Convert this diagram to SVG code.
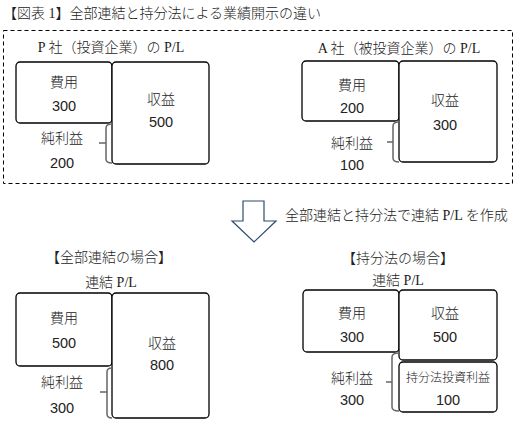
<svg xmlns="http://www.w3.org/2000/svg" width="520" height="425" viewBox="0 0 520 425">
<style>
.t{font-family:"Liberation Serif","Noto Sans CJK JP",serif;font-size:14px;font-weight:300;fill:#222}
.n{font-family:"Liberation Sans",Arial,sans-serif;font-size:14.5px;fill:#222;text-anchor:middle}
.c{text-anchor:middle}
.s{font-size:12px}
.box{fill:#fff;stroke:#000;stroke-width:1.3}
.br{fill:none;stroke:#666;stroke-width:1.5}
</style>
<rect width="520" height="425" fill="#fff"/>
<text class="t" x="3" y="18">【図表 1】全部連結と持分法による業績開示の違い</text>
<rect x="3.5" y="30.5" width="509" height="153" fill="none" stroke="#000" stroke-width="1" stroke-dasharray="4,3"/>

<g id="p-pl">
<text class="t c" x="111" y="52">P 社（投資企業）の P/L</text>
<rect class="box" x="16" y="62" width="96" height="61" rx="4"/>
<rect class="box" x="112" y="62" width="97" height="102" rx="4"/>
<text class="t c" x="64" y="87">費用</text>
<text class="n" x="64" y="111">300</text>
<text class="t c" x="161" y="104">収益</text>
<text class="n" x="161" y="127">500</text>
<text class="t c" x="62" y="143">純利益</text>
<text class="n" x="62" y="168">200</text>
</g>

<g id="a-pl">
<text class="t c" x="399" y="53">A 社（被投資企業）の P/L</text>
<rect class="box" x="302" y="61" width="97" height="60" rx="4"/>
<rect class="box" x="399" y="61" width="98" height="101" rx="4"/>
<text class="t c" x="352" y="90">費用</text>
<text class="n" x="352" y="113">200</text>
<text class="t c" x="445" y="105">収益</text>
<text class="n" x="445" y="130">300</text>
<text class="t c" x="352" y="148">純利益</text>
<text class="n" x="352" y="170">100</text>
</g>

<g id="arrow">
<path d="M243,201 H264 V221 H276 L254,242 L232,221 H243 Z" fill="#fff" stroke="#2f4a6e" stroke-width="1.2"/>
<text class="t" x="285" y="220">全部連結と持分法で連結 P/L を作成</text>
</g>

<g id="full">
<text class="t c" x="109" y="262">【全部連結の場合】</text>
<text class="t c" x="111" y="287">連結 P/L</text>
<rect class="box" x="16" y="293" width="96" height="73" rx="4"/>
<rect class="box" x="112" y="293" width="97" height="125" rx="4"/>
<text class="t c" x="64" y="323">費用</text>
<text class="n" x="64" y="348">500</text>
<text class="t c" x="162" y="348">収益</text>
<text class="n" x="162" y="370">800</text>
<text class="t c" x="62" y="387">純利益</text>
<text class="n" x="62" y="413">300</text>
</g>

<g id="equity">
<text class="t c" x="398" y="263">【持分法の場合】</text>
<text class="t c" x="398" y="285">連結 P/L</text>
<rect class="box" x="303" y="290" width="96" height="62" rx="4"/>
<rect class="box" x="399" y="290" width="98" height="70" rx="4"/>
<rect class="box" x="399" y="362" width="98" height="50" rx="4"/>
<text class="t c" x="352" y="318">費用</text>
<text class="n" x="352" y="342">300</text>
<text class="t c" x="445" y="318">収益</text>
<text class="n" x="445" y="342">500</text>
<text class="t c" x="352" y="383">純利益</text>
<text class="n" x="352" y="405">300</text>
<text class="t c s" x="448" y="382">持分法投資利益</text>
<text class="n" x="448" y="405">100</text>
</g>

<g id="connectors">
<path class="br" d="M112,124 Q106,124 106,128 V159 Q106,163 112,163 M99,143 H106"/>
<path class="br" d="M399,122 Q393,122 393,126 V158 Q393,162 399,162 M387,142 H393"/>
<path class="br" d="M112,368 Q107,368 107,372 V414 Q107,418 112,418 M100,392 H107"/>
<path class="br" d="M399,353 Q392,353 392,357 V407 Q392,411 399,411 M386,382 H392"/>
</g>
</svg>
